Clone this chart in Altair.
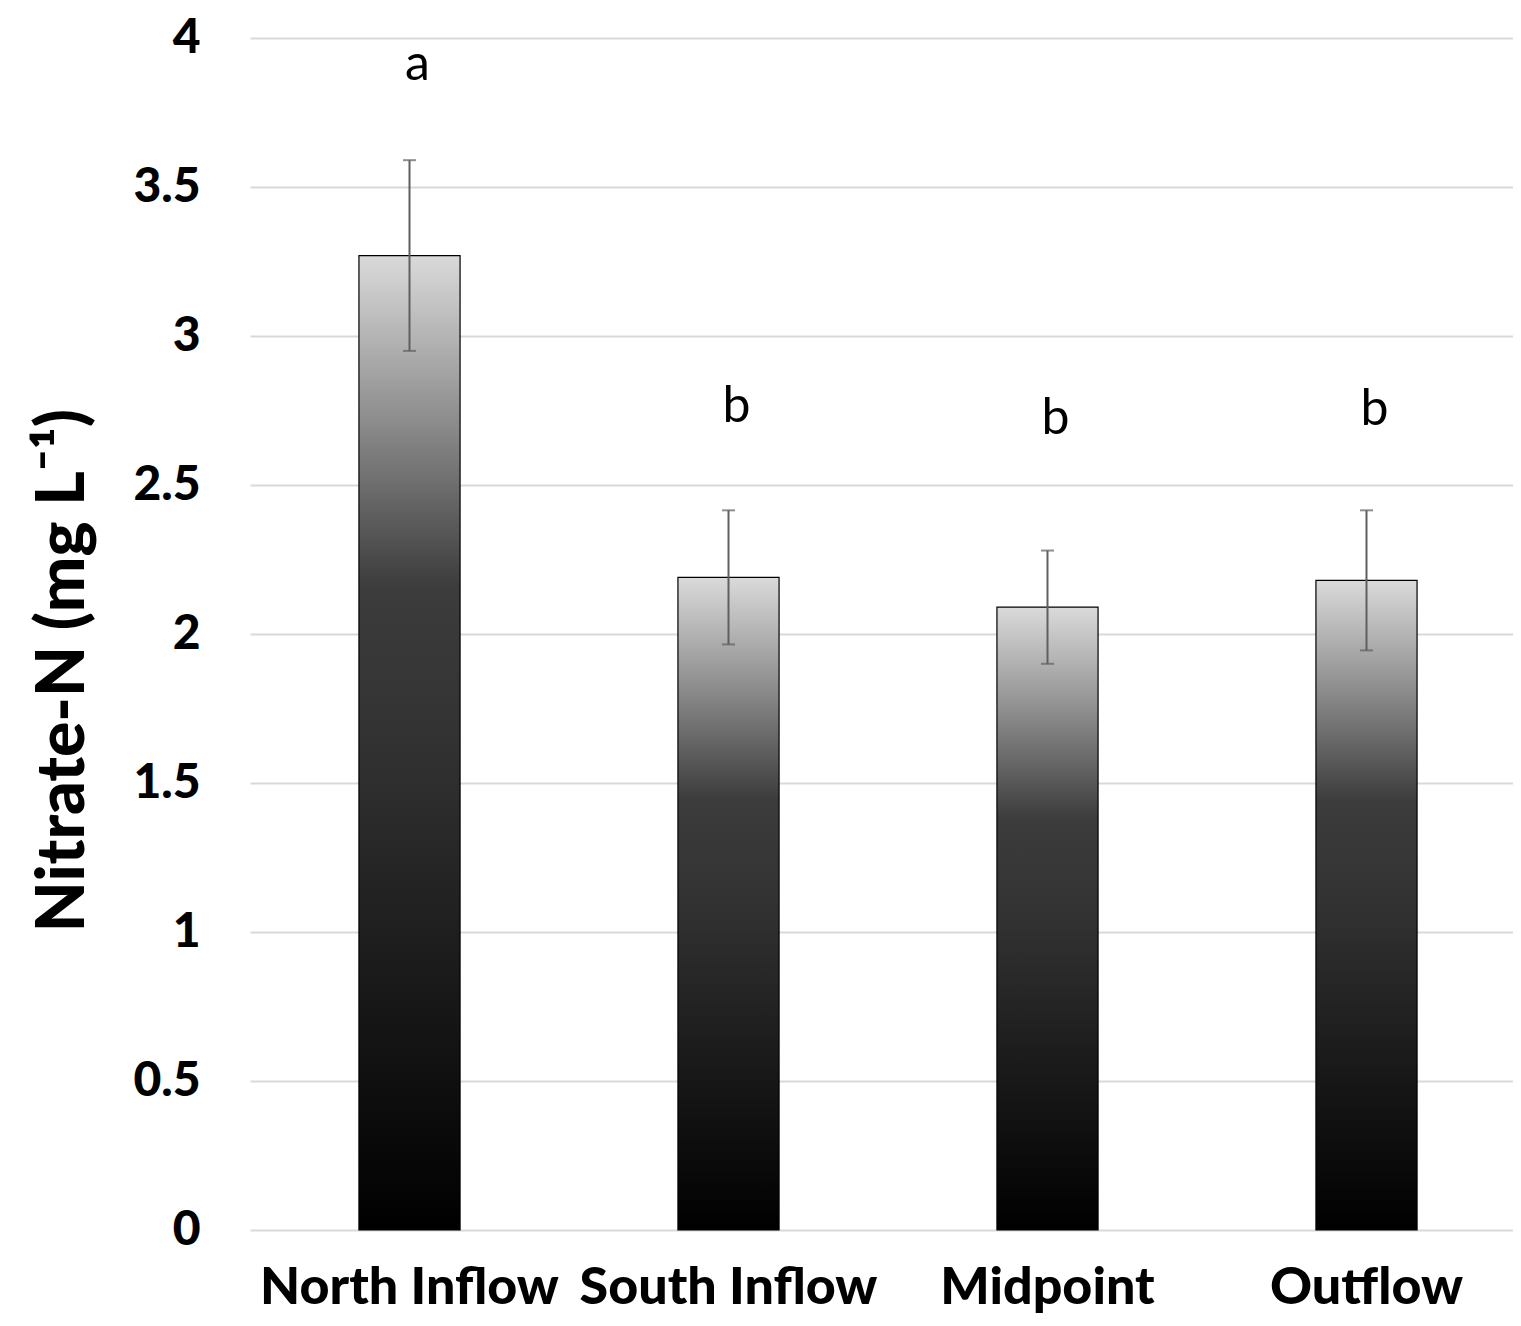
import altair as alt
import pandas as pd

sites = ["North Inflow", "South Inflow", "Midpoint", "Outflow"]
means = [3.27, 2.19, 2.09, 2.18]
errs = [0.32, 0.225, 0.19, 0.235]
letters = ["a", "b", "b", "b"]
letter_y = [3.86, 2.71, 2.67, 2.70]

df = pd.DataFrame({
    "site": sites,
    "mean": means,
    "lo": [m - e for m, e in zip(means, errs)],
    "hi": [m + e for m, e in zip(means, errs)],
    "letter": letters,
    "ly": letter_y,
})

FONT = "Lato"

x_scale = alt.Scale(paddingInner=0.683, paddingOuter=0.3415, range=[0, 1276])

x = alt.X("site:N", sort=sites, title=None, scale=x_scale,
          axis=alt.Axis(labelAngle=0, labelFont=FONT, labelFontSize=52,
                        labelFontWeight=900, labelColor="black",
                        labelPadding=32, ticks=False, domain=False,
                        labelLimit=400))

y_scale = alt.Scale(domain=[0, 4], nice=False)

grad = alt.Gradient(
    gradient="linear",
    stops=[
        alt.GradientStop(color="#dadada", offset=0),
        alt.GradientStop(color="#9a9a9a", offset=0.14),
        alt.GradientStop(color="#3c3c3c", offset=0.34),
        alt.GradientStop(color="#323232", offset=0.5),
        alt.GradientStop(color="#000000", offset=1),
    ],
    x1=0, x2=0, y1=0, y2=1,
)

bars = alt.Chart(df).mark_bar(color=grad, stroke="black", strokeWidth=1.2).encode(
    x=x,
    y=alt.Y("mean:Q", scale=y_scale, title="Nitrate-N (mg L⁻¹)",
            axis=alt.Axis(values=[0, 0.5, 1, 1.5, 2, 2.5, 3, 3.5, 4], format="~g",
                          labelFont=FONT, labelFontSize=48, labelFontWeight=900,
                          labelColor="black", labelPadding=50, ticks=False,
                          domain=False, grid=True, gridColor="#d9d9d9",
                          gridWidth=2, titleFont=FONT, titleFontSize=66,
                          titleFontWeight=900, titleColor="black",
                          titlePadding=35, titleY=632)),
)

rules = alt.Chart(df).mark_rule(color="#5f5f5f", strokeWidth=2).encode(
    x=alt.X("site:N", sort=sites, scale=x_scale),
    y=alt.Y("lo:Q", scale=y_scale),
    y2="hi:Q",
)

caps_hi = alt.Chart(df).mark_tick(color="#5f5f5f", thickness=2, size=13).encode(
    x=alt.X("site:N", sort=sites, scale=x_scale),
    y=alt.Y("hi:Q", scale=y_scale),
)
caps_lo = alt.Chart(df).mark_tick(color="#5f5f5f", thickness=2, size=13).encode(
    x=alt.X("site:N", sort=sites, scale=x_scale),
    y=alt.Y("lo:Q", scale=y_scale),
)

text = alt.Chart(df).mark_text(font=FONT, fontSize=50, color="black",
                               baseline="alphabetic", align="center", dx=8).encode(
    x=alt.X("site:N", sort=sites, scale=x_scale),
    y=alt.Y("ly:Q", scale=y_scale),
    text="letter:N",
)

chart = alt.layer(bars, rules, caps_hi, caps_lo, text).properties(
    width=1263, height=1192,
    background="white",
    autosize=alt.AutoSizeParams(type="none"),
    padding={"left": 242, "top": 30, "right": 0, "bottom": 88},
).configure_view(strokeWidth=0).configure_axis(domain=False, ticks=False)

chart.save("out.html", embed_options={"renderer": "svg", "actions": False})
